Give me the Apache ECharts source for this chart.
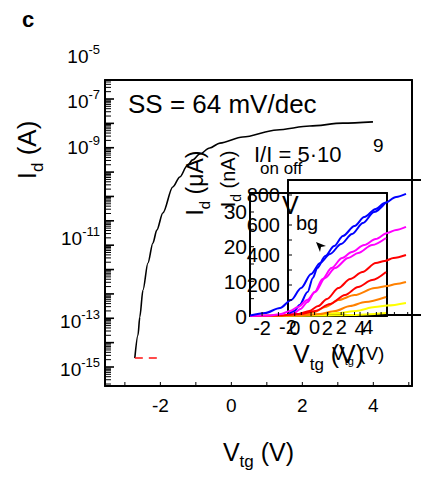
<!DOCTYPE html>
<html><head><meta charset="utf-8">
<script src="https://cdn.jsdelivr.net/npm/echarts@6/dist/echarts.min.js"></script>
<style>html,body{margin:0;padding:0;background:#fff}#c{width:421px;height:488px}</style>
</head><body><div id="c"></div>
<script>
// ---- main transfer curve: V_tg (V) vs log10 I_d on the drawn decade scale ----
const mainVtg   = [-2.72,-2.63,-2.58,-2.49,-2.35,-2.21,-2.10,-1.93,-1.65,-1.45,-1.25,-1.09,-0.89,-0.61,-0.32,0.32,1.28,2.21,3.14,3.99];
const mainLogId = [-17.63,-16.69,-15.95,-14.84,-13.73,-12.91,-12.38,-11.68,-10.61,-10.20,-9.75,-9.50,-9.26,-9.01,-8.81,-8.56,-8.27,-8.11,-7.99,-7.94];
const floorVtg   = [-2.72,-2.10];
const floorLogId = [-17.63,-17.63];

// main axis tick labels
const mainXLabels = [-2,0,2,4];
const yLabelPos = [-7.12,-9.01,-12.71,-16.13,-18.10];
const yLabelExp = ['-7','-9','-11','-13','-15'];
const yTopLabelPos = [-5.25];
const yTopLabelExp = ['-5'];

// ---- inset A: I_d (nA) vs V_tg (V) ----
const aBlueV = [-2.0,-1.53,-1.13,-0.53,-0.13,0.2,0.8,1.47,2.13,3.0,3.73,4.6,5.27,6.13,6.87];
const aBlueI = [3,27,67,153,247,313,393,460,527,593,653,707,747,787,807];
const aMagV  = [-2,-1.53,-1.07,-0.53,0,0.6,1.27,2.07,2.8,3.73,4.6,5.47,6.13,6.87];
const aMagI  = [0,13,40,87,153,240,313,380,420,467,507,547,567,587];
const aRedV  = [-2,-1.2,-0.4,0.27,0.93,1.8,2.67,3.6,4.6,5.27,5.93,6.87];
const aRedI  = [0,7,27,60,107,180,240,287,347,360,380,400];
const aOrgV  = [-2,-0.87,0,0.8,1.8,3.0,4.53,5.47,6.13,6.87];
const aOrgI  = [0,3,20,53,100,133,180,193,207,220];
const aYelV  = [-2,0.13,1.8,3.13,4.53,5.47,6.87];
const aYelI  = [0,3,13,27,53,63,80];
const aXLabels = [-2,0,2,4];
const aYLabels = [200,400,600,800];

// ---- inset B: I_d (uA) vs V_tg (V) ----
const bBlueV = [-2.73,-1.82,-0.90,-0.22,0.39,1.0,1.55,2.16,2.84,3.51,4.18,4.86,5.59];
const bBlueI = [0.14,0.87,2.31,4.61,8.08,12.11,15.29,17.88,20.77,23.65,26.82,29.99,32.88];
const bMagV  = [-2.73,-1.51,-0.84,-0.29,0.20,0.76,1.25,1.86,2.47,3.27,3.88,4.74,5.59];
const bMagI  = [0,0.14,0.58,1.44,2.60,4.61,6.92,10.96,13.84,16.73,18.17,20.48,22.50];
const bRedV  = [-2.73,-0.90,0.33,1.25,2.16,3.08,3.88,4.74,5.59];
const bRedI  = [0,0.14,0.58,1.44,3.46,6.06,8.36,10.38,12.69];
const bOrgV  = [-2.73,0.33,1.55,2.47,3.39,4.31,5.59];
const bOrgI  = [0,0.14,0.58,1.44,2.88,4.04,5.48];
const bYelV  = [-2.73,1.55,3.39,5.59];
const bYelI  = [0,0.14,0.29,0.87];
const bXLabels = [-2,0,2,4];
const bYLabels = [0,10,20,30];

const FONT = "'Liberation Sans', Arial, Helvetica, sans-serif";
const zip = (xs, ys) => xs.map((x, i) => [x, ys[i]]);
const steps = (a, b, s) => { const r = []; for (let v = a; v <= b + 1e-9; v += s) r.push(+v.toFixed(6)); return r; };

const MX = [-3.56, 5.09], MY = [-18.78, -6.22];
const AX = [-2, 8], AY = [0, 900];
const BX = [-2.74, 5.65], BY = [0, 35.48];

// tick positions (axis values)
const majorDecades = steps(-18, -7, 1);
const minorDecades = [];
for (let n = -19; n <= -7; n++) for (let k = 2; k <= 9; k++) { const v = n + Math.log10(k); if (v >= MY[0] && v <= MY[1]) minorDecades.push(+v.toFixed(5)); }

const expRich = {
  b: {fontSize: 19, color: '#000', fontFamily: FONT},
  s: {fontSize: 13, color: '#000', fontFamily: FONT, padding: [0, 0, 14, 0]}
};
const expFmt = (pos, exp) => v => {
  const i = pos.findIndex(p => Math.abs(p - v) < 1e-6);
  return i < 0 ? '' : '{b|10}{s|' + exp[i] + '}';
};
const bl = () => ({show: true, onZero: false, lineStyle: {color: '#000', width: 2}});
const lineOnly = (extra) => Object.assign({type: 'value', axisLine: bl(), axisTick: {show: false}, axisLabel: {show: false}, splitLine: {show: false}}, extra);
const hidden = (extra) => Object.assign({type: 'value', show: false, axisLine: {show: false, onZero: false}, splitLine: {show: false}}, extra);

function line(xi, yi, xs, ys, color, width, extra) {
  return Object.assign({
    type: 'line', xAxisIndex: xi, yAxisIndex: yi, data: zip(xs, ys),
    showSymbol: false, symbol: 'none', smooth: 0.3, smoothMonotone: 'x',
    lineStyle: {color, width}, itemStyle: {color}
  }, extra || {});
}

function txt(x, y, text, rich, opts) {
  const style = Object.assign({text, fill: '#000', font: '20px ' + FONT, align: 'left', verticalAlign: 'middle'}, (opts && opts.style) || {});
  if (rich) style.rich = rich;
  const el = {type: 'text', x, y, z: 100, style};
  if (opts && opts.rotation) el.rotation = opts.rotation;
  return el;
}
const subRich = (a, s, pad) => ({
  a: {fontSize: a, color: '#000', fontFamily: FONT},
  s: {fontSize: s, color: '#000', fontFamily: FONT, padding: [pad, 0, 0, 0]}
});

const chart = echarts.init(document.getElementById('c'), null, {renderer: 'svg'});
chart.setOption({
  animation: false,
  grid: [
    {left: 105, top: 80, width: 307, height: 306, show: false},   // 0 main
    {left: 105, top: 40, width: 307, height: 346, show: false},   // 1 label above the box
    {left: 288, top: 180, width: 150, height: 135, show: false},  // 2 inset nA
    {left: 250, top: 193, width: 137, height: 123, show: false}   // 3 inset uA
  ],
  xAxis: [
    {gridIndex: 0, type: 'value', min: MX[0], max: MX[1], position: 'bottom',
     axisLine: bl(), splitLine: {show: false}, axisTick: {show: false},
     axisLabel: {customValues: mainXLabels, color: '#000', fontSize: 19, fontFamily: FONT, margin: 10},
     name: '{a|V}{s|tg}{a| (V)}', nameLocation: 'middle', nameGap: 47,
     nameTextStyle: {rich: subRich(25, 17, 20)}},
    lineOnly({gridIndex: 0, min: MX[0], max: MX[1], position: 'top'}),
    hidden({gridIndex: 1, min: MX[0], max: MX[1]}),
    {gridIndex: 2, type: 'value', min: AX[0], max: AX[1], position: 'bottom',
     axisLine: bl(), splitLine: {show: false}, axisTick: {show: false},
     axisLabel: {customValues: aXLabels, color: '#000', fontSize: 20, fontFamily: FONT, margin: 2}},
    lineOnly({gridIndex: 2, min: AX[0], max: AX[1], position: 'top'}),
    {gridIndex: 3, type: 'value', min: BX[0], max: BX[1], position: 'bottom',
     axisLine: bl(), splitLine: {show: false}, axisTick: {show: false},
     axisLabel: {customValues: bXLabels, color: '#000', fontSize: 20, fontFamily: FONT, margin: 2}},
    lineOnly({gridIndex: 3, min: BX[0], max: BX[1], position: 'top'})
  ],
  yAxis: [
    {gridIndex: 0, type: 'value', min: MY[0], max: MY[1], position: 'left',
     axisLine: bl(), splitLine: {show: false}, axisTick: {show: false},
     axisLabel: {customValues: yLabelPos, formatter: expFmt(yLabelPos, yLabelExp), rich: expRich, margin: 5}},
    lineOnly({gridIndex: 0, min: MY[0], max: MY[1], position: 'right'}),
    {gridIndex: 1, type: 'value', min: MY[0], max: -4.576, position: 'left',
     axisLine: {show: false, onZero: false}, splitLine: {show: false}, axisTick: {show: false},
     axisLabel: {customValues: yTopLabelPos, formatter: expFmt(yTopLabelPos, yTopLabelExp), rich: expRich, margin: 5}},
    {gridIndex: 2, type: 'value', min: AY[0], max: AY[1], position: 'left',
     axisLine: bl(), splitLine: {show: false}, axisTick: {show: false},
     axisLabel: {customValues: aYLabels, color: '#000', fontSize: 20, fontFamily: FONT, margin: 8}},
    {gridIndex: 3, type: 'value', min: BY[0], max: BY[1], position: 'left',
     axisLine: bl(), splitLine: {show: false}, axisTick: {show: false},
     axisLabel: {customValues: bYLabels, color: '#000', fontSize: 21, fontFamily: FONT, margin: 3}},
    lineOnly({gridIndex: 3, min: BY[0], max: BY[1], position: 'right'})
  ],
  series: [
    line(0, 0, mainVtg, mainLogId, '#000', 1.6),
    line(0, 0, floorVtg, floorLogId, '#ff1010', 1.6, {smooth: false, lineStyle: {color: '#ff1010', width: 1.6, type: [8, 6]}}),
    line(3, 3, aYelV, aYelI, '#ffff00', 2),
    line(3, 3, aOrgV, aOrgI, '#ff8000', 2),
    line(3, 3, aRedV, aRedI, '#ff0000', 2),
    line(3, 3, aMagV, aMagI, '#ff00ff', 2),
    line(3, 3, aBlueV, aBlueI, '#0000ff', 2),
    line(5, 4, bYelV, bYelI, '#ffff00', 2),
    line(5, 4, bOrgV, bOrgI, '#ff8000', 2),
    line(5, 4, bRedV, bRedI, '#ff0000', 2),
    line(5, 4, bMagV, bMagI, '#ff00ff', 2),
    line(5, 4, bBlueV, bBlueI, '#0000ff', 2)
  ]
});

// text annotations
const texts = [
  txt(22, 19, 'c', null, {style: {font: 'bold 22px ' + FONT}}),
  txt(27, 150, '{a|I}{s|d}{a| (A)}', subRich(26, 17, 20), {rotation: Math.PI / 2, style: {align: 'center'}}),
  txt(128, 104, 'SS = 64 mV/dec', null, {style: {font: '26px ' + FONT}}),
  txt(254, 154, 'I/I = 5·10', null, {style: {font: '22px ' + FONT}}),
  txt(260, 168, 'on off', null, {style: {font: '17px ' + FONT}}),
  txt(373, 145, '9', null, {style: {font: '19px ' + FONT}}),
  txt(195, 183, '{a|I}{s|d}{a| (μA)}', subRich(23, 15, 18), {rotation: Math.PI / 2, style: {align: 'center'}}),
  txt(228, 179, '{a|I}{s|d}{a| (nA)}', subRich(20, 14, 16), {rotation: Math.PI / 2, style: {align: 'center'}}),
  txt(282, 205, 'V', null, {style: {font: '25px ' + FONT}}),
  txt(296, 223, 'bg', null, {style: {font: '20px ' + FONT}}),
  {type: 'polygon', x: 316, y: 242, z: 100, shape: {points: [[0, 0], [10, 4], [5, 5], [4, 10]]}, style: {fill: '#000'}},
  txt(293, 354, '{a|V}{s|tg}{a| (V)}', subRich(25, 17, 20)),
  txt(332, 353, '{a|V}{s|tg}{a| (V)}', subRich(19, 11, 16))
];

// inward tick marks, positioned through the axes' own scales
const tickMarks = [];
function addTicks(xi, yi, pts, dx, dy, w) {
  pts.forEach(pt => {
    let p = null;
    try { p = chart.convertToPixel({xAxisIndex: xi, yAxisIndex: yi}, pt); } catch (e) { p = null; }
    if (!p || !isFinite(p[0]) || !isFinite(p[1])) return;
    tickMarks.push({type: 'line', z: 50, silent: true,
      shape: {x1: p[0], y1: p[1], x2: p[0] + dx, y2: p[1] + dy},
      style: {stroke: '#000', lineWidth: w}});
  });
}
addTicks(0, 0, majorDecades.map(v => [MX[0], v]), 9, 0, 1.6);
addTicks(0, 0, minorDecades.map(v => [MX[0], v]), 6, 0, 1);
addTicks(0, 0, steps(-3, 5, 1).map(v => [v, MY[0]]), 0, -4, 1);
addTicks(3, 3, steps(100, 800, 100).map(v => [AX[0], v]), 4, 0, 1);
addTicks(3, 3, steps(-1, 7, 1).map(v => [v, AY[0]]), 0, -3, 1);
addTicks(5, 4, steps(5, 35, 5).map(v => [BX[0], v]), 4, 0, 1);
addTicks(5, 4, steps(-2, 5, 1).map(v => [v, BY[0]]), 0, -4, 1);

chart.setOption({graphic: texts.concat(tickMarks)});
</script>
</body></html>
